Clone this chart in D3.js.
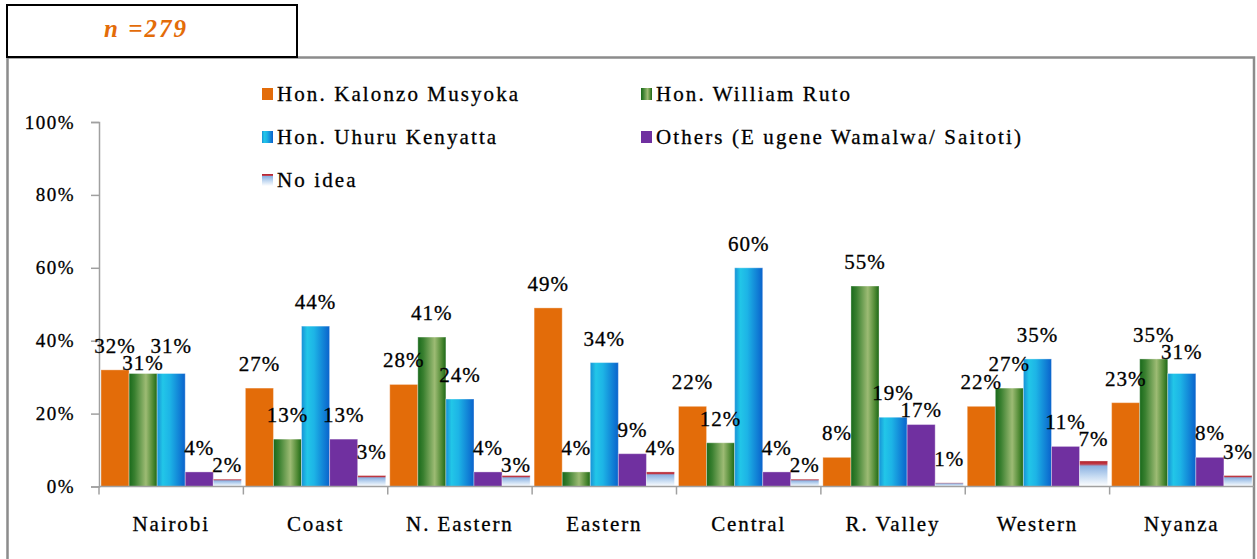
<!DOCTYPE html>
<html>
<head>
    <meta charset="UTF-8">
    <script src="https://d3js.org/d3.v7.min.js"></script>
</head>
<body style="margin:0">
<script>
    // data
    let regions = ["Nairobi", "Coast", "N.Eastern", "Eastern", "Central", "R.Valley", "Western", "Nyanza"]
    let regionLabels = ["Nairobi", "Coast", "N. Eastern", "Eastern", "Central", "R. Valley", "Western", "Nyanza"]
    let series = ["Hon. Kalonzo Musyoka", "Hon. William Ruto", "Hon. Uhuru Kenyatta", "Others (E ugene Wamalwa/ Saitoti)", "No idea"]
    let kalonzo = [32, 27, 28, 49, 22, 8, 22, 23]
    let ruto = [31, 13, 41, 4, 12, 55, 27, 35]
    let uhuru = [31, 44, 24, 34, 60, 19, 35, 31]
    let others = [4, 13, 4, 9, 4, 17, 11, 8]
    let noIdea = [2, 3, 3, 4, 2, 1, 7, 3]
    let yTicks = [0, 20, 40, 60, 80, 100]
    let sampleNote = "n =279"

    let values = [kalonzo, ruto, uhuru, others, noIdea]
    let serif = "'Liberation Serif'"

    let W = 1257, H = 559
    let svg = d3.select("body").append("svg")
        .attr("width", W).attr("height", H)
        .style("font-family", serif)

    let defs = svg.append("defs")
    function grad(id, stops, vertical) {
        let g = defs.append("linearGradient").attr("id", id)
            .attr("x1", 0).attr("y1", 0)
            .attr("x2", vertical ? 0 : 1).attr("y2", vertical ? 1 : 0)
        stops.forEach(function (s) {
            g.append("stop").attr("offset", s[0]).attr("stop-color", s[1])
        })
    }
    grad("gGreen", [[0, "#18691a"], [0.2, "#3a8030"], [0.6, "#9dbb74"], [0.85, "#4f8a34"], [1, "#1c6817"]])
    grad("gBlue", [[0, "#1790d6"], [0.2, "#22c6e8"], [0.45, "#1db4e6"], [1, "#0a62cc"]])
    grad("gNone", [[0, "#b01e28"], [0.12, "#c23a48"], [0.2, "#8cb2e2"], [0.6, "#c6dbf2"], [1, "#ffffff"]], true)
    let fills = ["#e36c09", "url(#gGreen)", "url(#gBlue)", "#7030a0", "url(#gNone)"]

    function serifText(sel, size, spacing) {
        return sel.style("font-family", serif)
            .style("font-size", size + "px")
            .style("letter-spacing", spacing + "px")
            .style("fill", "#000")
            .style("stroke", "#000").style("stroke-width", 0.3)
    }

    // frame and sample box
    svg.append("path")
        .attr("d", "M7.5,559 V57.5 H1254 V559")
        .attr("fill", "none").attr("stroke", "#8c8c8c").attr("stroke-width", 2.5)
    svg.append("rect")
        .attr("x", 7).attr("y", 5).attr("width", 290).attr("height", 52)
        .attr("fill", "#fff").attr("stroke", "#000").attr("stroke-width", 2)
    svg.append("text")
        .attr("x", 146).attr("y", 37)
        .attr("text-anchor", "middle")
        .style("font-family", serif)
        .style("font-size", "25px").style("letter-spacing", "2px")
        .style("font-weight", "bold").style("font-style", "italic")
        .style("fill", "#e36c09")
        .text(sampleNote)

    // scales
    let x0 = d3.scaleBand().domain(regions).range([99, 1254]).padding(0)
    let x1 = d3.scaleBand().domain(d3.range(series.length)).range([2, x0.bandwidth() - 2]).padding(0)
    let y = d3.scaleLinear().domain([0, 100]).range([486.5, 122])

    // axes
    let yAxis = svg.append("g").attr("transform", "translate(99,0)")
        .call(d3.axisLeft(y).tickValues(yTicks).tickSize(8).tickPadding(16).tickFormat(function (d) { return d + "%" }))
    yAxis.select(".domain").attr("stroke", "#a0a0a0").attr("stroke-width", 1.5)
    yAxis.selectAll(".tick line").attr("stroke", "#a0a0a0").attr("stroke-width", 1.5)
    serifText(yAxis.selectAll(".tick text"), 19, 1.5)

    // bars
    let groups = svg.append("g").selectAll("g")
        .data(regions)
        .join("g")
        .attr("transform", function (d) { return `translate(${x0(d)},0)` })

    groups.each(function (region, ri) {
        let g = d3.select(this)
        let row = values.map(function (v, si) { return { s: si, v: v[ri] } })
        g.selectAll("rect")
            .data(row)
            .join("rect")
            .attr("x", function (d) { return x1(d.s) })
            .attr("width", x1.bandwidth())
            .attr("y", function (d) { return y(d.v) })
            .attr("height", function (d) { return y(0) - y(d.v) })
            .attr("fill", function (d) { return fills[d.s] })
            .attr("stroke", "#ffffff").attr("stroke-opacity", 0.35).attr("stroke-width", 1)
        let labels = serifText(g.selectAll("text")
            .data(row)
            .join("text"), 21, 1)
            .attr("x", function (d) { return x1(d.s) + x1.bandwidth() / 2 })
            .attr("y", function (d) { return y(d.v) - 17 })
            .attr("text-anchor", "middle")
            .text(function (d) { return d.v + "%" })

        // nudge labels that sit on top of their neighbour
        let prev = null
        labels.each(function (d) {
            let t = d3.select(this)
            let cx = +t.attr("x"), cy = +t.attr("y"), w = this.getComputedTextLength()
            if (prev && Math.abs(cx - prev.cx) < (w + prev.w) / 2 && Math.abs(cy - prev.cy) < 17) {
                let down = prev.cy + 17
                cy = down <= y(d.v) + 4 ? down : prev.cy - 17
                t.attr("y", cy)
            }
            prev = { cx: cx, cy: cy, w: w }
        })
    })

    // x axis on top of bars
    let xAxis = svg.append("g").attr("transform", "translate(0,486.5)")
    xAxis.append("line").attr("x1", 99).attr("x2", 1254)
        .attr("stroke", "#a0a0a0").attr("stroke-width", 1.5)
    xAxis.selectAll("line.tk")
        .data(regions)
        .join("line").attr("class", "tk")
        .attr("x1", function (d) { return x0(d) }).attr("x2", function (d) { return x0(d) })
        .attr("y1", 0).attr("y2", 8)
        .attr("stroke", "#a0a0a0").attr("stroke-width", 1.5)
    serifText(xAxis.selectAll("text")
        .data(regions)
        .join("text"), 21, 1.9)
        .attr("x", function (d) { return x0(d) + x0.bandwidth() / 2 })
        .attr("y", 44)
        .attr("text-anchor", "middle")
        .text(function (d, i) { return regionLabels[i] })

    // legend
    let legendPos = [[262, 94], [641, 94], [262, 137], [641, 137], [262, 180]]
    let legend = svg.append("g").selectAll("g")
        .data(series)
        .join("g")
        .attr("transform", function (d, i) { return `translate(${legendPos[i][0]},${legendPos[i][1]})` })
    legend.append("rect")
        .attr("x", 0).attr("y", -6).attr("width", 11).attr("height", 12)
        .attr("fill", function (d, i) { return fills[i] })
    serifText(legend.append("text"), 21, 2.1)
        .attr("x", 15).attr("y", 7)
        .text(function (d) { return d })
</script>
</body>
</html>
